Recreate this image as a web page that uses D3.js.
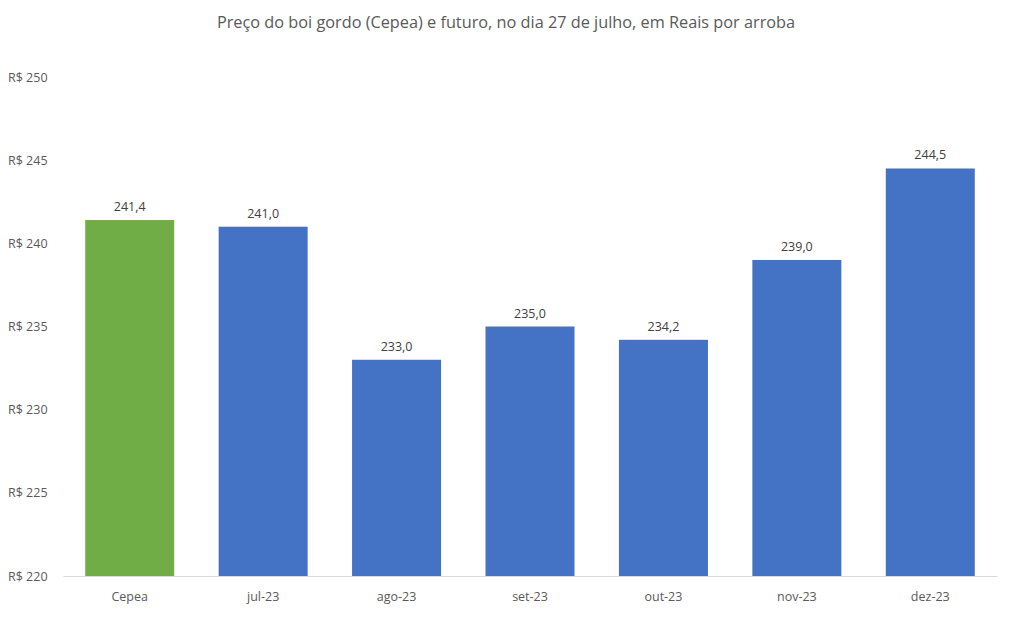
<!DOCTYPE html>
<html>
<head>
<meta charset="utf-8">
<script src="https://cdn.jsdelivr.net/npm/d3@7"></script>
<style>
  body { margin: 0; background: #fff; }
  svg text { font-family: "Open Sans", "Noto Sans", sans-serif; }
</style>
</head>
<body>
<div class="chart"></div>
<script>
"use strict";
// chart data
var categories = ["Cepea", "jul-23", "ago-23", "set-23", "out-23", "nov-23", "dez-23"];
var prices = [241.4, 241.0, 233.0, 235.0, 234.2, 239.0, 244.5];
var yTicks = [220, 225, 230, 235, 240, 245, 250];
var title = "Preço do boi gordo (Cepea) e futuro, no dia 27 de julho, em Reais por arroba";

var W = 1012, H = 630;
var margin = {top: 77, right: 15, bottom: 54, left: 63};
var width = W - margin.left - margin.right,
    height = H - margin.top - margin.bottom;

var svg = d3.select(".chart").append("svg")
  .attr("width", W).attr("height", H);

svg.append("text")
  .attr("x", 506).attr("y", 28)
  .attr("text-anchor", "middle")
  .style("font-size", "16.3px")
  .style("fill", "#595959")
  .text(title);

var g = svg.append("g")
  .attr("transform", "translate(" + margin.left + "," + margin.top + ")");

//xScale
var x = d3.scaleBand()
  .domain(categories)
  .range([0, width])
  .paddingInner(0.333)
  .paddingOuter(0.1665);

//yScale
var y = d3.scaleLinear()
  .domain([220, 250])
  .range([height, 0]);

var data = categories.map(function(c, i){ return {name: c, value: prices[i]}; });

g.selectAll(".bar")
  .data(data)
  .enter().append("rect")
  .attr("class", "bar")
  .attr("x", function(d){ return x(d.name); })
  .attr("width", x.bandwidth())
  .attr("y", function(d){ return y(d.value); })
  .attr("height", function(d){ return height - y(d.value); })
  .style("fill", function(d, i){ return i === 0 ? "#70ad47" : "#4472c4"; });

// bar labels
g.selectAll(".barLbl")
  .data(data)
  .enter().append("text")
  .attr("class", "barLbl")
  .attr("x", function(d){ return x(d.name) + x.bandwidth() / 2; })
  .attr("y", function(d){ return y(d.value) - 9; })
  .attr("text-anchor", "middle")
  .style("font-size", "12.5px")
  .style("fill", "#404040")
  .text(function(d){ return d.value.toFixed(1).replace(".", ","); });

// y axis
var yAxis = d3.axisLeft(y)
  .tickValues(yTicks)
  .tickSize(0)
  .tickPadding(13)
  .tickFormat(function(d){ return "R$ " + d; });

var yG = g.append("g").attr("class", "y axis").call(yAxis);
yG.select(".domain").remove();
yG.selectAll("text")
  .style("font-size", "12.5px")
  .style("fill", "#595959")
  .attr("text-anchor", "start")
  .attr("x", -55);

// x axis
var xAxis = d3.axisBottom(x).tickSize(0).tickPadding(16);
var xG = g.append("g")
  .attr("class", "x axis")
  .attr("transform", "translate(0," + height + ")")
  .call(xAxis);
xG.select(".domain").style("stroke", "#d9d9d9");
xG.selectAll("text")
  .style("font-size", "12.5px")
  .style("fill", "#595959");
</script>
</body>
</html>
